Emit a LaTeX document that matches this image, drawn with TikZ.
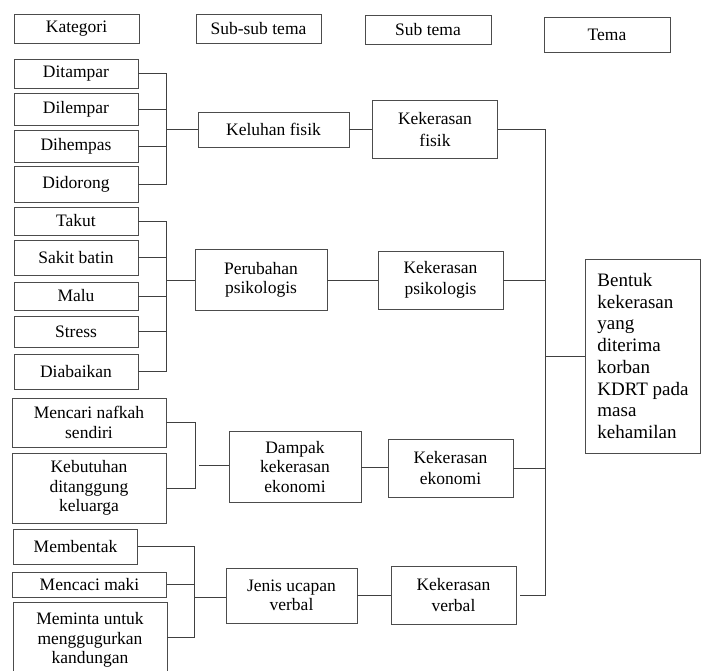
\documentclass[tikz,border=0pt]{standalone}
\usepackage{fontspec}
\setmainfont{Liberation Serif}
\usetikzlibrary{positioning, calc}

\begin{document}
\begin{tikzpicture}[x=1pt, y=-1pt,
    box/.style={draw=black!70, line width=0.9pt, align=center, inner sep=2pt, font=\fontsize{17.5}{19.5}\selectfont},
    sub/.style={box, font=\fontsize{17.5}{21.5}\selectfont},
    link/.style={draw=black!75, line width=0.9pt}]

\useasboundingbox (0,0) rectangle (701,671);

% header row
\node[box, minimum width=125pt, minimum height=29pt] (kategori) at (76.5,28.5) {Kategori};
\node[box, minimum width=125pt, minimum height=29pt] (subsubtema) at (258.5,28.5) {Sub-sub tema};
\node[box, minimum width=126pt, minimum height=29pt] (subtema) at (428,29.5) {Sub tema};
\node[box, minimum width=126pt, minimum height=35pt] (tema) at (607,34.5) {Tema};

% kategori
\begin{scope}[minimum width=124pt]
    \node[box, minimum height=29pt] (ditampar) at (76,73.5) {Ditampar};
    \node[box, minimum height=32pt] (dilempar) at (76,109) {Dilempar};
    \node[box, minimum height=32pt] (dihempas) at (76,146) {Dihempas};
    \node[box, minimum height=36pt] (didorong) at (76,184) {Didorong};
    \node[box, minimum height=28pt] (takut) at (76,221) {Takut};
    \node[box, minimum height=35pt] (sakit) at (76,257.5) {Sakit batin};
    \node[box, minimum height=28pt] (malu) at (76,296) {Malu};
    \node[box, minimum height=31pt] (stress) at (76,331.5) {Stress};
    \node[box, minimum height=35pt] (diabaikan) at (76,371.5) {Diabaikan};
    \node[box, minimum height=35pt] (membentak) at (75.5,546.5) {Membentak};
\end{scope}

\begin{scope}[minimum width=154pt]
    \node[box, minimum height=49pt] (nafkah) at (89,422.5) {Mencari nafkah\\sendiri};
    \node[box, minimum height=70pt] (kebutuhan) at (89,488) {Kebutuhan\\ditanggung\\keluarga};
    \node[box, minimum height=25pt] (mencaci) at (89.5,584.5) {Mencaci maki};
    \node[box, minimum height=76pt] (meminta) at (90,640) {Meminta untuk\\menggugurkan\\kandungan};
\end{scope}

% sub-sub tema
\node[box, minimum width=151pt, minimum height=35pt] (keluhan) at (273.5,129.5) {Keluhan fisik};
\node[box, minimum width=132pt, minimum height=61pt] (perubahan) at (261,280) {Perubahan\\psikologis};
\node[box, minimum width=132pt, minimum height=71pt] (dampak) at (295,467) {Dampak\\kekerasan\\ekonomi};
\node[box, minimum width=131pt, minimum height=55pt] (jenis) at (291.5,595.5) {Jenis ucapan\\verbal};

% sub tema
\begin{scope}[minimum width=125pt, minimum height=58pt]
    \node[sub] (kfisik) at (435,129.5) {Kekerasan\\fisik};
    \node[sub] (kpsikologis) at (440.5,280) {Kekerasan\\psikologis};
    \node[sub] (kekonomi) at (450.5,468) {Kekerasan\\ekonomi};
    \node[sub] (kverbal) at (453.5,595) {Kekerasan\\verbal};
\end{scope}

% tema
\node[box, minimum width=114pt, minimum height=194pt, align=left, inner xsep=12pt,
      font=\fontsize{19}{21.7}\selectfont] (bentuk) at (643,356)
      {Bentuk\\kekerasan\\yang\\diterima\\korban\\KDRT pada\\masa\\kehamilan};

% brackets
\coordinate (b1) at (166,129.5);
\coordinate (b2) at (166,280);
\coordinate (b3) at (195,465);
\coordinate (b4) at (194,597);

\foreach \n in {ditampar, dilempar, dihempas, didorong}
    \draw[link] (\n.east) -| (b1);
\draw[link] (b1) -- (b1 -| keluhan.west);

\foreach \n in {takut, sakit, malu, stress, diabaikan}
    \draw[link] (\n.east) -| (b2);
\draw[link] (b2) -- (b2 -| perubahan.west);

\foreach \n in {nafkah, kebutuhan}
    \draw[link] (\n.east) -| (b3);
\draw[link] ([xshift=4pt]b3) -- (b3 -| dampak.west);

\draw[link] (membentak.east) -| (b4);
\draw[link] (mencaci.east) -| (b4);
\draw[link] ([yshift=3pt]meminta.east) -| (b4);
\draw[link] (b4) -- (b4 -| jenis.west);

\draw[link] (keluhan.east) -- (keluhan.east -| kfisik.west);
\draw[link] (perubahan.east) -- (perubahan.east -| kpsikologis.west);
\draw[link] (dampak.east) -- (dampak.east -| kekonomi.west);
\draw[link] (jenis.east) -- (jenis.east -| kverbal.west);

% bus to tema
\coordinate (bustop) at (545,129.5);
\coordinate (busbot) at (545,595);
\draw[link] (kfisik.east) -- (bustop) -- (busbot) -- ([xshift=4pt]kverbal.east);
\draw[link] (kpsikologis.east) -- (kpsikologis.east -| bustop);
\draw[link] (kekonomi.east) -- (kekonomi.east -| bustop);
\draw[link] (bentuk.west) -- (bentuk.west -| bustop);

\end{tikzpicture}
\end{document}
